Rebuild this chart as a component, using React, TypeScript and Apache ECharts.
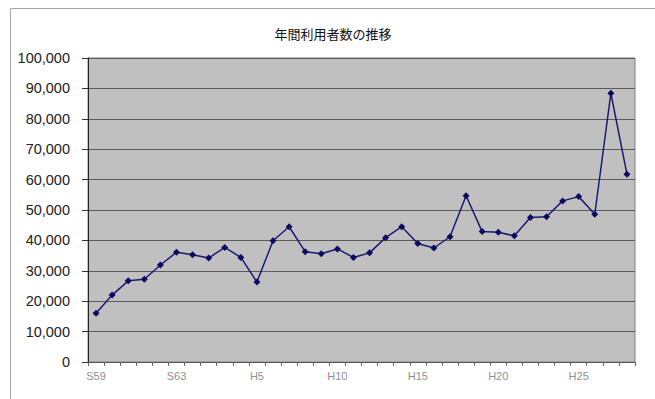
import React, { useEffect, useRef } from "react";
import * as echarts from "echarts";

const titleText = "年間利用者数の推移";

// 34 fiscal-year categories; only every 5th is labelled (S59, S63, H5, H10, H15, H20, H25)
const categories = [
  "S59", "S60", "S61", "S62", "S62b", "S63",
  "H1", "H2", "H3", "H4", "H5", "H6", "H7", "H8", "H9", "H10",
  "H11", "H12", "H13", "H14", "H15", "H16", "H17", "H18", "H19", "H20",
  "H21", "H22", "H23", "H24", "H25", "H26", "H27", "H28",
];

const users = [
  16000, 22000, 26700, 27200, 31900, 36100, 35300, 34200, 37700, 34400,
  26300, 39900, 44500, 36300, 35600, 37200, 34400, 35900, 40900, 44500,
  39000, 37500, 41200, 54700, 42900, 42700, 41500, 47500, 47800, 53000,
  54400, 48600, 88400, 61800,
];

const yTicks = { min: 0, max: 100000, interval: 10000 };

export default function App() {
  const ref = useRef<HTMLDivElement>(null);
  useEffect(() => {
    if (!ref.current) return;
    const chart = echarts.init(ref.current, null, { renderer: "svg" });
    chart.setOption({
      animation: false,
      backgroundColor: "#ffffff",
      graphic: [
        {
          type: "rect",
          shape: { x: 10.5, y: 8.5, width: 700, height: 450 },
          style: { fill: "none", stroke: "#a8a8a8", lineWidth: 1 },
          silent: true,
        },
      ],
      title: {
        text: titleText,
        left: 328,
        textAlign: "center",
        top: 22,
        textStyle: {
          fontFamily: "Noto Sans CJK JP",
          fontSize: 13,
          fontWeight: "normal",
          color: "#111111",
        },
      },
      grid: {
        left: 88,
        top: 58,
        width: 547,
        height: 304,
        show: true,
        backgroundColor: "#c0c0c0",
        borderColor: "#808080",
        borderWidth: 1,
      },
      xAxis: {
        type: "category",
        data: categories,
        boundaryGap: true,
        axisLine: { show: true, lineStyle: { color: "#555555", width: 1 } },
        axisTick: {
          show: true,
          interval: 0,
          length: 4,
          lineStyle: { color: "#666666" },
        },
        axisLabel: {
          interval: 4,
          margin: 8,
          fontFamily: "Liberation Sans",
          fontSize: 11,
          color: "#909090",
          formatter: (v: string) => (v === "S62b" ? "" : v),
        },
        splitLine: { show: false },
      },
      yAxis: {
        type: "value",
        min: yTicks.min,
        max: yTicks.max,
        interval: yTicks.interval,
        axisLine: { show: true, lineStyle: { color: "#222222", width: 1 } },
        axisTick: { show: true, length: 6, lineStyle: { color: "#333333" } },
        axisLabel: {
          margin: 18,
          fontFamily: "Liberation Sans",
          fontSize: 14.5,
          color: "#222222",
          formatter: (v: number) => v.toLocaleString("en-US"),
        },
        splitLine: { show: true, lineStyle: { color: "#5a5a5a", width: 1 } },
      },
      series: [
        {
          type: "line",
          data: users,
          symbol: "diamond",
          symbolSize: 7,
          lineStyle: { color: "#1a1a70", width: 1.5 },
          itemStyle: { color: "#0a0a60" },
        },
      ],
    });
    return () => chart.dispose();
  }, []);
  return (
    <div
      ref={ref}
      style={{ position: "absolute", left: 0, top: 0, width: 655, height: 399 }}
    />
  );
}
